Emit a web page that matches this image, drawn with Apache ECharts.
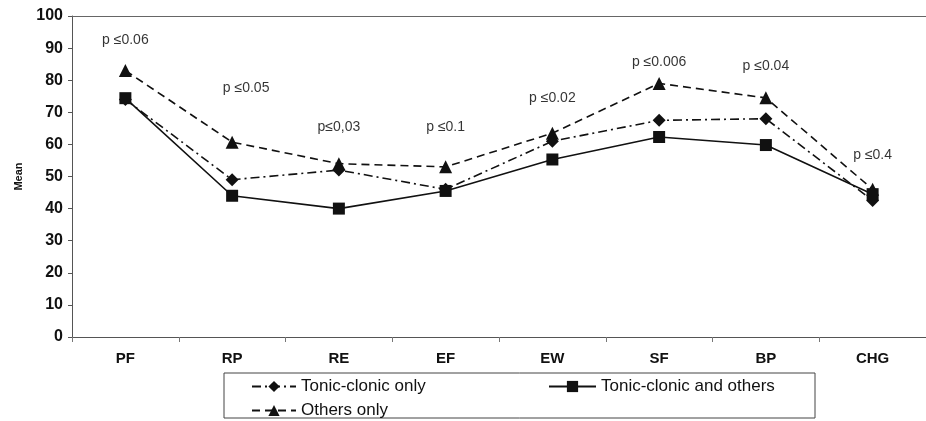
<!DOCTYPE html>
<html>
<head>
<meta charset="utf-8">
<script src="https://cdn.jsdelivr.net/npm/echarts@6/dist/echarts.min.js"></script>
<style>
  html, body { margin: 0; padding: 0; background: #fff; }
  #main { width: 926px; height: 421px; }
</style>
</head>
<body>
<div id="main"></div>
<script>
// categories and means
var categories = ['PF', 'RP', 'RE', 'EF', 'EW', 'SF', 'BP', 'CHG'];
var tonicOnly = [74, 49, 52, 46, 61, 67.5, 68, 42.5];
var tonicAndOthers = [74.4, 44, 40, 45.5, 55.3, 62.3, 59.8, 44.5];
var othersOnly = [83, 60.7, 54, 53, 63.5, 79, 74.5, 46];
// p-value notes per category and where they sit (value units)
var pNotes = ['p \u22640.06', 'p \u22640.05', 'p\u22640,03', 'p \u22640.1', 'p \u22640.02', 'p \u22640.006', 'p \u22640.04', 'p \u22640.4'];
var pNoteY = [92.5, 77.5, 65.5, 65.5, 74.5, 85.5, 84.5, 56.5];

var myChart = echarts.init(document.getElementById('main'));
var font = 'Liberation Sans, Arial, sans-serif';

var notes = [];
for (var i = 0; i < categories.length; i++) {
  notes.push({ value: [categories[i], pNoteY[i]], label: { formatter: pNotes[i], offset: i == 1 ? [14, 0] : [0, 0] } });
}

// one legend per entry so the layout matches the boxed two-row key
function legendItem(name, left, top, w) {
  return {
    left: left, top: top,
    padding: 0,
    itemWidth: w, itemHeight: 14,
    textStyle: { fontFamily: font, fontSize: 17, color: '#111' },
    data: [name]
  };
}

myChart.setOption({
  animation: false,
  grid: { left: 72, top: 16, width: 856, height: 321, containLabel: false },
  graphic: [{
    type: 'rect',
    shape: { x: 224, y: 373, width: 591, height: 45 },
    style: { fill: 'none', stroke: '#444', lineWidth: 1 },
    silent: true
  }],
  legend: [
    legendItem('Tonic-clonic only', 251, 378, 44),
    legendItem('Others only', 251, 402, 44),
    legendItem('Tonic-clonic and others', 548, 378, 47)
  ],
  xAxis: [{
    type: 'category',
    data: categories,
    boundaryGap: true,
    axisLine: { lineStyle: { color: '#555', width: 1 } },
    axisTick: { show: true, length: 5, lineStyle: { color: '#777' } },
    axisLabel: { fontFamily: font, fontSize: 15, fontWeight: 'bold', color: '#111', margin: 14 }
  }, {
    type: 'category',
    data: categories,
    position: 'top',
    axisLine: { show: true, lineStyle: { color: '#666', width: 1 } },
    axisTick: { show: false },
    axisLabel: { show: false }
  }],
  yAxis: {
    type: 'value',
    min: 0, max: 100, interval: 10,
    name: 'Mean',
    nameLocation: 'middle',
    nameGap: 48,
    nameTextStyle: { fontFamily: font, fontSize: 11, fontWeight: 'bold', color: '#111' },
    axisLine: { show: true, lineStyle: { color: '#555' } },
    axisTick: { show: true, length: 4, lineStyle: { color: '#555' } },
    axisLabel: { fontFamily: font, fontSize: 16, fontWeight: 'bold', color: '#111', margin: 9 },
    splitLine: { show: false }
  },
  series: [
    {
      name: 'Tonic-clonic only',
      type: 'line',
      data: tonicOnly,
      symbol: 'diamond',
      symbolSize: 13,
      itemStyle: { color: '#111' },
      lineStyle: { color: '#111', width: 1.6, type: [9, 4, 2, 4] },
      z: 3
    },
    {
      name: 'Tonic-clonic and others',
      type: 'line',
      data: tonicAndOthers,
      symbol: 'rect',
      symbolSize: 12,
      itemStyle: { color: '#111' },
      lineStyle: { color: '#111', width: 1.6, type: 'solid' },
      z: 4
    },
    {
      name: 'Others only',
      type: 'line',
      data: othersOnly,
      symbol: 'triangle',
      symbolSize: 13,
      itemStyle: { color: '#111' },
      lineStyle: { color: '#111', width: 1.6, type: [8, 5] },
      z: 2
    },
    {
      type: 'scatter',
      data: notes,
      symbolSize: 0,
      silent: true,
      label: { show: true, position: 'inside', fontFamily: font, fontSize: 14, color: '#000', textBorderWidth: 0 },
      tooltip: { show: false }
    }
  ]
});
</script>
</body>
</html>
